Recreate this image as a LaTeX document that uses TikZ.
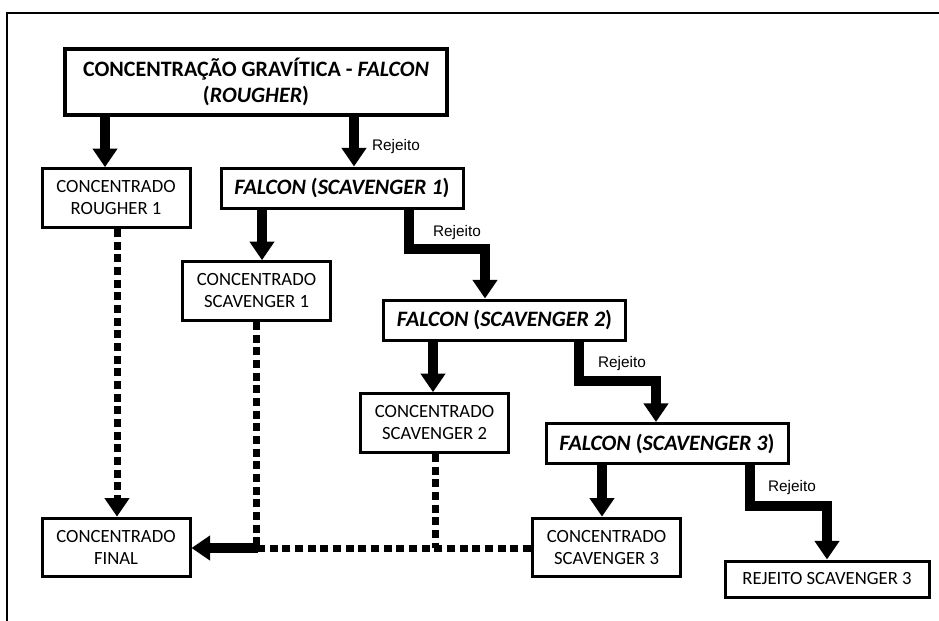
\documentclass[tikz,border=0pt]{standalone}
\usepackage{fontspec}
\setmainfont{Carlito}
\newfontfamily\arialfont{Liberation Sans}
\usetikzlibrary{arrows.meta}

\tikzset{
  stagebox/.style={draw, line width=2.25pt, align=center, inner sep=0pt},
  concbox/.style={stagebox, minimum width=111pt, minimum height=44pt,
    font=\fontsize{14}{16.5}\selectfont},
  falconbox/.style={stagebox, minimum width=181.5pt, minimum height=30pt,
    font=\bfseries\fontsize{16.5}{19}\selectfont},
  flow/.style={line width=7pt, line join=miter,
    -{Triangle[width=18pt,length=14pt]}},
  dotline/.style={line width=5.25pt, dash pattern=on 6pt off 3.5pt},
  rejlabel/.style={font=\arialfont\fontsize{11.5}{13}\selectfont, inner sep=0pt}
}

\begin{document}
\begin{tikzpicture}[x=0.75pt,y=-0.75pt]
  \useasboundingbox (0,0) rectangle (939,621);
  \clip (0,0) rectangle (939,621);
  % frame
  \draw[line width=1.5pt] (950,13) -- (7,13) -- (7,640);

  % stages
  \node[stagebox, minimum width=286.5pt, minimum height=49.5pt,
    line width=3pt, font=\bfseries\fontsize{16.5}{19.5}\selectfont] (top) at (256,82)
    {CONCENTRAÇÃO GRAVÍTICA - \textit{FALCON}\\(\textit{ROUGHER})};
  \node[concbox] (rough1) at (116,198) {CONCENTRADO\\ROUGHER 1};
  \node[falconbox] (scav1) at (342,188) {\textit{FALCON} (\textit{SCAVENGER 1})};
  \node[concbox] (cscav1) at (256.5,291) {CONCENTRADO\\SCAVENGER 1};
  \node[falconbox] (scav2) at (504.5,320) {\textit{FALCON} (\textit{SCAVENGER 2})};
  \node[concbox] (cscav2) at (434.5,423) {CONCENTRADO\\SCAVENGER 2};
  \node[falconbox] (scav3) at (667,443.5) {\textit{FALCON} (\textit{SCAVENGER 3})};
  \node[concbox] (cscav3) at (606.5,547.5) {CONCENTRADO\\SCAVENGER 3};
  \node[stagebox, minimum width=153pt, minimum height=27pt,
    font=\fontsize{14}{16.5}\selectfont] (rej3) at (827,579) {REJEITO SCAVENGER 3};
  \node[concbox] (final) at (116,547.5) {CONCENTRADO\\FINAL};

  % solid flows
  \draw[flow] (top.south -| 105,0) -- (rough1.north -| 105,0);
  \draw[flow] (top.south -| 354,0) -- (scav1.north -| 354,0);
  \draw[flow] (scav1.south -| 262,0) -- (cscav1.north -| 262,0);
  \draw[flow] (scav1.south -| 409,0) |- (485,249) -- (scav2.north -| 485,0);
  \draw[flow] (scav2.south -| 433,0) -- (cscav2.north -| 433,0);
  \draw[flow] (scav2.south -| 579,0) |- (656,381) -- (scav3.north -| 656,0);
  \draw[flow] (scav3.south -| 602,0) -- (cscav3.north -| 602,0);
  \draw[flow] (scav3.south -| 750,0) |- (827,506) -- (rej3.north -| 827,0);

  % labels
  \node[rejlabel] (lab1) at (396,147) {Rejeito};
  \node[rejlabel] (lab2) at (457,233) {Rejeito};
  \node[rejlabel] (lab3) at (622,364) {Rejeito};
  \node[rejlabel] (lab4) at (792,488) {Rejeito};

  % concentrate lines
  \coordinate (join) at (258,548);
  \draw[dotline, -{Triangle[width=18pt,length=14pt]}] (rough1.south -| 117,0) -- (final.north -| 117,0);
  \draw[dotline] (cscav1.south -| 256,0) -- (256,548);
  \draw[dotline] (cscav2.south -| 435,0) -- (435,548);
  \draw[dotline] (cscav3.west |- 0,548) -- (join);
  \draw[flow] (join) -- (final.east |- 0,548);
\end{tikzpicture}
\end{document}
